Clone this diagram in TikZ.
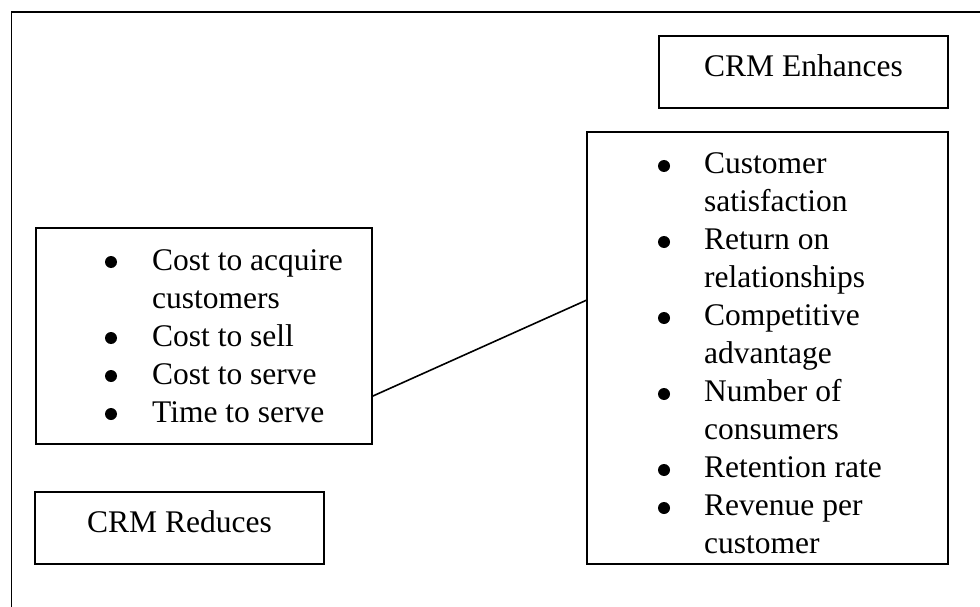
\documentclass[tikz,border=0pt]{standalone}
\usepackage{fontspec}
\setmainfont{Liberation Serif}
\usetikzlibrary{calc}

\tikzset{
  crmbox/.style={draw, line width=1.6pt, inner sep=0pt},
  crmtext/.style={inner sep=0pt, font=\fontsize{31.5}{38}\selectfont}
}

\begin{document}
\begin{tikzpicture}[x=1pt, y=-1pt]
\useasboundingbox (0,0) rectangle (980,607);

% outer frame, cut by the page on the right and below
\draw [line width=1.6pt] (11.5,607) -- (11.5,12.3) -- (980,12.3);

% boxes
\node[crmbox, minimum width=289pt, minimum height=72pt] (enhances) at (803.5,72) {};
\node[crmbox, minimum width=361pt, minimum height=432pt] (enhlist) at (767.5,348) {};
\node[crmbox, minimum width=336pt, minimum height=216pt] (redlist) at (204,336) {};
\node[crmbox, minimum width=289pt, minimum height=72pt] (reduces) at (179.5,528) {};

% titles
\node[crmtext, anchor=base] (enhtitle) at ([yshift=-5pt]enhances.center) {CRM Enhances};
\node[crmtext, anchor=base] (redtitle) at ([yshift=-4pt]reduces.center) {CRM Reduces};

% lists
\node[crmtext, anchor=base west] (redtext) at (152,270) {%
  \begin{tabular}[t]{@{}l@{}}
  Cost to acquire\\
  customers\\
  Cost to sell\\
  Cost to serve\\
  Time to serve
  \end{tabular}};
\node[crmtext, anchor=base west] (enhtext) at (704,174) {%
  \begin{tabular}[t]{@{}l@{}}
  Customer\\
  satisfaction\\
  Return on\\
  relationships\\
  Competitive\\
  advantage\\
  Number of\\
  consumers\\
  Retention rate\\
  Revenue per\\
  customer
  \end{tabular}};

% bullets
\foreach \y in {262,338,376,414}
  \fill (111,\y) circle (6pt);
\foreach \y in {166,242,318,394,470,508}
  \fill (664,\y) circle (6pt);

% link
\draw [line width=1.6pt] ($(redlist.north east)!0.776!(redlist.south east)$)
  -- ($(enhlist.north west)!0.39!(enhlist.south west)$);
\end{tikzpicture}
\end{document}
